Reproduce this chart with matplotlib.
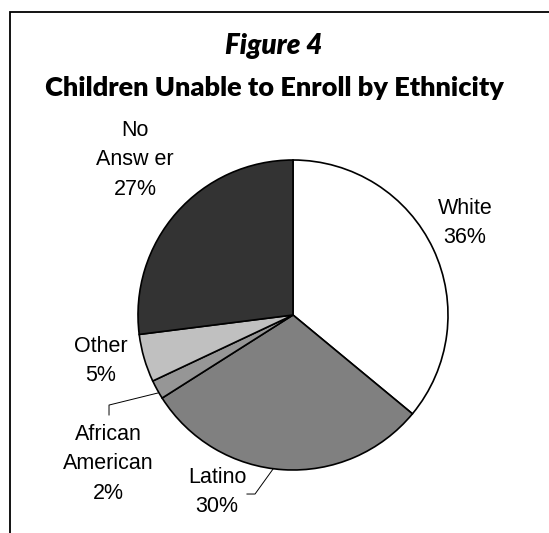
import matplotlib.pyplot as plt
from matplotlib.patches import Rectangle

# data
labels = ['White', 'Latino', 'African\nAmerican', 'Other', 'No\nAnsw er']
shares = [36, 30, 2, 5, 27]
colors = ['#ffffff', '#808080', '#969696', '#c0c0c0', '#333333']

# label spots (data units, pie radius = 1)
label_pos = [(1.11, 0.594), (-0.49, -1.142), (-1.194, -0.961), (-1.239, -0.297), (-1.019, 1.0)]

W, H = 549, 533
cx, cy, r = 293, 315, 155  # pie centre / radius in pixels

fig = plt.figure(figsize=(W / 100, H / 100), dpi=100)
ax = fig.add_axes([0, 0, 1, 1])

ax.pie(shares, colors=colors, startangle=90, counterclock=False,
       wedgeprops=dict(edgecolor='black', linewidth=1.2))
ax.set_xlim(-cx / r, (W - cx) / r)
ax.set_ylim(-(H - cy) / r, cy / r)
ax.set_aspect('auto')

for lab, s, (x, y) in zip(labels, shares, label_pos):
    ax.text(x, y, f'{lab}\n{s}%', ha='center', va='center', fontsize=15.5,
            family='Liberation Sans', linespacing=1.55)

# leader lines
ax.plot([-1.187, -1.187, -0.871], [-0.645, -0.581, -0.503], color='black', lw=0.7)
ax.plot([-0.297, -0.245, -0.129], [-1.155, -1.155, -0.994], color='black', lw=0.7)

# frame
fig.patches.append(Rectangle((10 / W, -0.1), 1.2, 1 - 12 / H + 0.1, transform=fig.transFigure,
                             fill=False, edgecolor='black', lw=1.3))

fig.text(274 / W, 1 - 46 / H, 'Figure 4', ha='center', va='center', fontsize=20,
         family='Lato', weight='heavy', style='italic')
fig.text(274 / W, 1 - 88 / H, 'Children Unable to Enroll by Ethnicity', ha='center',
         va='center', fontsize=19.5, family='Lato', weight='heavy')

fig.savefig('out.png', dpi=100)
